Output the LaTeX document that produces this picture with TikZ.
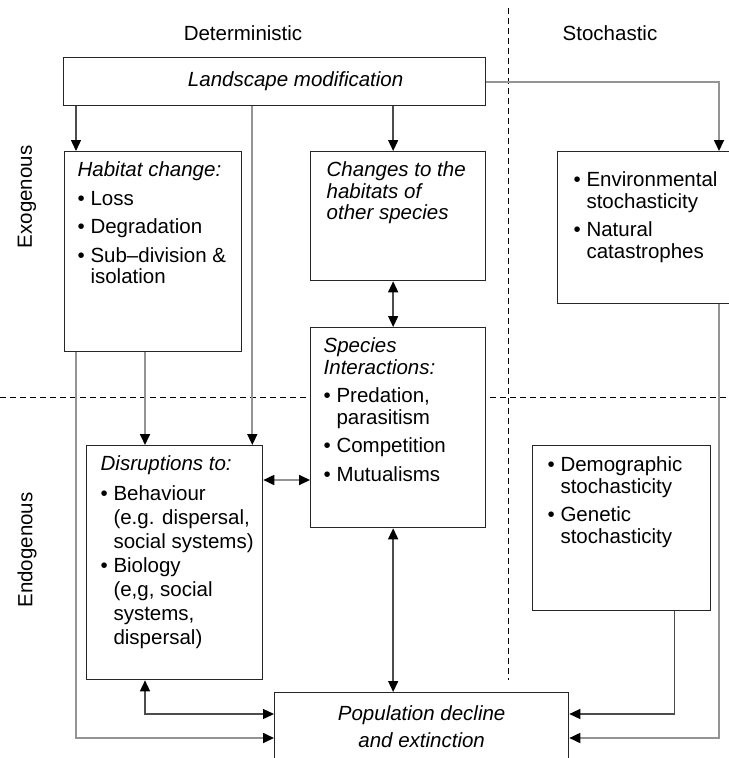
\documentclass[tikz,border=0pt]{standalone}
\usepackage{fontspec}
\setmainfont{Liberation Sans}
\usetikzlibrary{arrows.meta}

\newlength{\itemgap}
\setlength{\itemgap}{7bp}
\newcommand{\panel}[5][10bp]{\begin{minipage}[c][#3][t]{#2}\raggedright\leftskip=#4\relax\vspace*{#1}#5\end{minipage}}
\newcommand{\bitem}[1]{\par\vspace{\itemgap}\setbox0\hbox{\textbullet\ }\hangindent=\wd0 \hangafter=1 \noindent\box0 #1}

\begin{document}
\begin{tikzpicture}[x=1bp, y=-1bp,
    font=\fontsize{20.5bp}{21.5bp}\selectfont,
    >={Triangle[length=11bp, width=10bp, color=black]},
    box/.style={draw=black!85, line width=1.3bp, fill=white, anchor=north west, inner sep=0pt},
    conn/.style={draw=black!70, line width=1.4bp},
    pale/.style={draw=black!42, line width=1.7bp},
    sep/.style={draw=black, line width=1bp, dash pattern=on 6bp off 4bp}]
    \useasboundingbox (0,0) rectangle (729,758);
    \draw[sep] (508,8) -- (508,680);
    \draw[sep] (0,397) -- (729,397);
    \node (det) at (243,33) {Deterministic};
    \node (sto) at (610,33) {Stochastic};
    \node[rotate=90] (exo) at (27,197) {Exogenous};
    \node[rotate=90] (endo) at (27,550) {Endogenous};
    \node[box, minimum width=422bp, minimum height=48bp] (land) at (63,57) {\hspace*{42bp}\textit{Landscape modification}};
    \node[box] (hab) at (64,151) {\panel{177bp}{200bp}{13bp}{\textit{Habitat change:}\bitem{Loss}\bitem{Degradation}\bitem{Sub--division \&\newline isolation}}};
    \node[box] (chg) at (310,151) {\panel{175bp}{129bp}{16bp}{\itshape Changes to the\\habitats of\\other species}};
    \node[box] (env) at (557,151) {\panel[13bp]{178bp}{152bp}{16bp}{\bitem{Environmental\newline stochasticity}\bitem{Natural\newline catastrophes}}};
    \node[box] (spc) at (310,327) {\panel{175bp}{200bp}{13bp}{\textit{Species\\Interactions:}\bitem{Predation,\newline parasitism}\bitem{Competition}\bitem{Mutualisms}}};
    \node[box] (dis) at (86,445) {\panel{176bp}{234bp}{14bp}{\fontsize{20.5bp}{24bp}\selectfont\setlength{\itemgap}{0bp}\textit{Disruptions to:}\par\vspace{6bp}\bitem{Behaviour\newline (e.g. dispersal,\newline social systems)}\bitem{Biology\newline (e,g, social\newline systems,\newline dispersal)}}};
    \node[box] (dem) at (532,445) {\panel[4bp]{178bp}{165bp}{15bp}{\bitem{Demographic\newline stochasticity}\bitem{Genetic\newline stochasticity}}};
    \node[box] (pop) at (274,692) {\panel[13bp]{294bp}{110bp}{0bp}{\centering\fontsize{20.5bp}{27bp}\selectfont\itshape Population decline\\and extinction}};
    \coordinate (hx) at ([xshift=12bp]hab.north west);
    \coordinate (dx) at ([xshift=59bp]dis.north west);
    \coordinate (gx) at ([xshift=-11bp]dis.north east);
    \coordinate (cx) at ([xshift=-5bp]chg.north);
    \coordinate (ex) at ([xshift=162bp]env.north west);
    \coordinate (mx) at ([xshift=-37bp]dem.south east);
    \coordinate (sy) at ([yshift=-153bp]spc.north west);
    \coordinate (p1) at ([yshift=-22bp]pop.north west);
    \coordinate (p2) at ([yshift=-46bp]pop.north west);
    \coordinate (q1) at ([yshift=-22bp]pop.north east);
    \coordinate (q2) at ([yshift=-46bp]pop.north east);
    \draw[conn,->] (hx |- land.south) -- (hx);
    \draw[conn,->] (cx |- land.south) -- (cx);
    \draw[pale,->] (gx |- land.south) -- (gx);
    \draw[pale,->] (land.east) -| (ex);
    \draw[conn,<->] (cx |- chg.south) -- (cx |- spc.north);
    \draw[pale,->] (dx |- hab.south) -- (dx);
    \draw[pale,->] (hx |- hab.south) |- (p2);
    \draw[pale,<->] (dis.east |- sy) -- (sy);
    \draw[conn,<->] (dx |- dis.south) |- (p1);
    \draw[conn,<->] (cx |- spc.south) -- (cx |- pop.north);
    \draw[conn,->] (mx) |- (q1);
    \draw[pale,->] (ex |- env.south) |- (q2);
\end{tikzpicture}
\end{document}
